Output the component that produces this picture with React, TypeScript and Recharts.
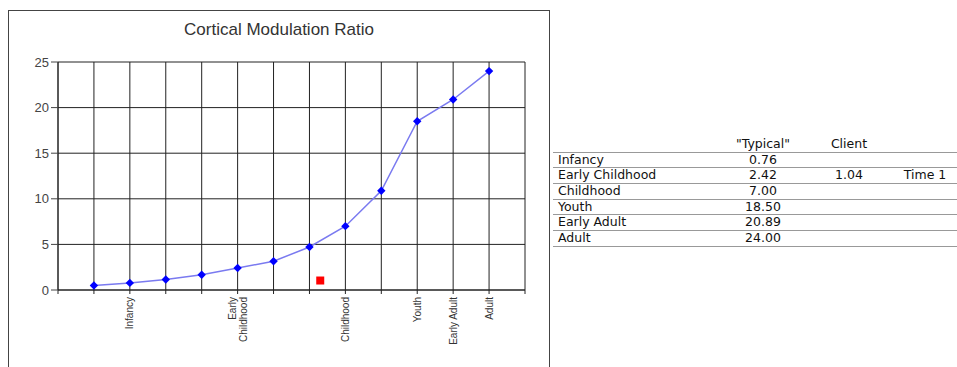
import React from "react";
import {
  ComposedChart,
  Line,
  Scatter,
  XAxis,
  YAxis,
  CartesianGrid,
} from "recharts";

// ---- data ----
const curvePositions = [1, 2, 3, 4, 5, 6, 7, 8, 9, 10, 11, 12];
const typicalCurve = [0.5, 0.78, 1.15, 1.68, 2.42, 3.15, 4.72, 7.0, 10.88, 18.5, 20.89, 24.0];

const clientPosition = [7.3];
const clientCurve = [1.04];

const xGridTicks = [0, 1, 2, 3, 4, 5, 6, 7, 8, 9, 10, 11, 12, 13];
const xLabelPositions = [2, 5, 8, 10, 11, 12];
const xLabels = ["Infancy", "Early\nChildhood", "Childhood", "Youth", "Early Adult", "Adult"];
const yTicks = [0, 5, 10, 15, 20, 25];

const stageNames = ["Infancy", "Early Childhood", "Childhood", "Youth", "Early Adult", "Adult"];
const typicalValues = ["0.76", "2.42", "7.00", "18.50", "20.89", "24.00"];
const clientValues = ["", "1.04", "", "", "", ""];
const clientTimes = ["", "Time 1", "", "", "", ""];

const chartTitle = "Cortical Modulation Ratio";

const chartData = curvePositions.map((x, i) => ({ x, typical: typicalCurve[i] }));
const clientData = clientPosition.map((x, i) => ({ x, client: clientCurve[i] }));

const XTick = (props: any) => {
  const { x, y, payload } = props;
  const idx = xLabelPositions.indexOf(payload.value);
  if (idx < 0) return null;
  const lines = xLabels[idx].split("\n");
  const offsets = lines.length === 1 ? [3.5] : [-1.5, 9];
  return (
    <g transform={`translate(${x},${y})`}>
      <text
        transform="rotate(-90)"
        textAnchor="end"
        fontSize={10}
        fontFamily="Arial, 'Liberation Sans', sans-serif"
        fill="#333"
      >
        {lines.map((l, i) => (
          <tspan key={i} x={0} y={offsets[i]}>
            {l}
          </tspan>
        ))}
      </text>
    </g>
  );
};

const Diamond = (props: any) => {
  const { cx, cy } = props;
  if (cx == null || cy == null) return null;
  const r = 4.2;
  return (
    <path
      d={`M${cx},${cy - r}L${cx + r},${cy}L${cx},${cy + r}L${cx - r},${cy}Z`}
      fill="#0000ff"
      stroke="none"
    />
  );
};

const RedSquare = (props: any) => {
  const { cx, cy } = props;
  if (cx == null || cy == null) return null;
  return <rect x={cx - 4} y={cy - 4} width={8} height={8} fill="#ff0000" />;
};

const cellStyle: React.CSSProperties = {
  position: "absolute",
  top: 0,
  whiteSpace: "nowrap",
};

const rowStyle: React.CSSProperties = {
  position: "relative",
  height: 14.7,
  borderBottom: "1px solid #999",
  lineHeight: "14px",
};

export default function App() {
  return (
    <div
      style={{
        position: "absolute",
        left: 0,
        top: 0,
        width: 957,
        height: 367,
        overflow: "hidden",
        background: "#fff",
        fontFamily: "Arial, 'Liberation Sans', sans-serif",
      }}
    >
      {/* frame */}
      <div
        style={{
          position: "absolute",
          left: 8,
          top: 10,
          width: 542,
          height: 400,
          border: "1px solid #444",
          boxSizing: "border-box",
        }}
      />
      {/* title */}
      <div
        style={{
          position: "absolute",
          left: 8,
          top: 20,
          width: 542,
          textAlign: "center",
          fontSize: 17,
          lineHeight: "20px",
          color: "#333",
        }}
      >
        {chartTitle}
      </div>
      <div style={{ position: "absolute", left: 8, top: 10 }}>
        <ComposedChart
          width={541}
          height={357}
          data={chartData}
          margin={{ top: 52, right: 24, left: 0, bottom: 0 }}
        >
          <CartesianGrid stroke="#222" strokeWidth={1} />
          <XAxis
            dataKey="x"
            type="number"
            domain={[0, 13]}
            ticks={xGridTicks}
            interval={0}
            height={77}
            tickSize={4}
            tickMargin={3}
            tick={<XTick />}
            axisLine={{ stroke: "#222" }}
            tickLine={{ stroke: "#222" }}
          />
          <YAxis
            type="number"
            domain={[0, 25]}
            ticks={yTicks}
            width={50}
            tickSize={7}
            tickMargin={2}
            tick={{ fontSize: 13, fill: "#444", fontFamily: "Arial, 'Liberation Sans', sans-serif" }}
            axisLine={{ stroke: "#222" }}
            tickLine={{ stroke: "#444" }}
          />
          <Line
            dataKey="typical"
            stroke="#7a7af0"
            strokeWidth={1.5}
            dot={<Diamond />}
            activeDot={false}
            isAnimationActive={false}
          />
          <Scatter
            data={clientData}
            dataKey="client"
            shape={<RedSquare />}
            isAnimationActive={false}
          />
        </ComposedChart>
      </div>
      {/* table */}
      <div
        style={{
          position: "absolute",
          left: 553,
          top: 137,
          width: 404,
          fontFamily: "'DejaVu Sans', Verdana, sans-serif",
          fontSize: 12.5,
          color: "#111",
        }}
      >
        <div style={rowStyle}>
          <span style={{ ...cellStyle, left: 150, width: 120, textAlign: "center" }}>"Typical"</span>
          <span style={{ ...cellStyle, left: 236, width: 120, textAlign: "center" }}>Client</span>
        </div>
        {stageNames.map((name, i) => (
          <div key={name} style={rowStyle}>
            <span style={{ ...cellStyle, left: 5 }}>{name}</span>
            <span style={{ ...cellStyle, left: 150, width: 120, textAlign: "center" }}>{typicalValues[i]}</span>
            <span style={{ ...cellStyle, left: 236, width: 120, textAlign: "center" }}>{clientValues[i]}</span>
            <span style={{ ...cellStyle, left: 312, width: 120, textAlign: "center" }}>{clientTimes[i]}</span>
          </div>
        ))}
      </div>
    </div>
  );
}
